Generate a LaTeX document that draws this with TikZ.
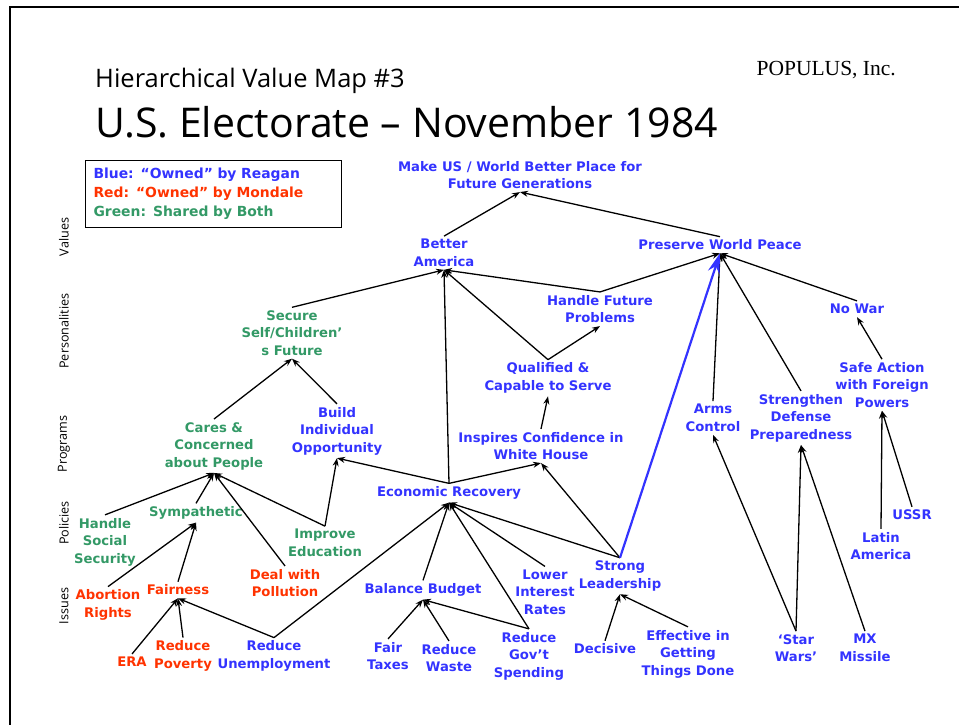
\documentclass[tikz,border=0pt]{standalone}
\usepackage{fontspec}
\setmainfont{DejaVu Sans}
\newfontfamily\titlefont{Open Sans}
\newfontfamily\firmfont{Liberation Serif}
\usetikzlibrary{arrows.meta}
\definecolor{reaganblue}{RGB}{51,51,255}
\definecolor{mondalered}{RGB}{255,51,0}
\definecolor{sharedgreen}{RGB}{51,153,102}
\tikzset{
	hvm/.style={align=center, font=\bfseries\fontsize{13.2}{17.5}\selectfont, inner sep=3pt},
	reagan/.style={hvm, text=reaganblue},
	mondale/.style={hvm, text=mondalered},
	shared/.style={hvm, text=sharedgreen},
	level/.style={rotate=90, inner sep=0pt, font=\titlefont\fontsize{12.6}{14}\selectfont},
	link/.style={-{Stealth[length=8pt,width=6pt]}, line width=1.3pt},
	biglink/.style={-{Stealth[length=20pt,width=12pt]}, line width=2.2pt, draw=reaganblue, fill=reaganblue}
}
\begin{document}
\begin{tikzpicture}[x=1pt, y=-1pt]
	\useasboundingbox (0,0) rectangle (959,725);
	\draw[line width=1.3pt] (959,7) -- (10,7) -- (10,725);

	\node[anchor=base west, inner sep=0pt, font=\titlefont\fontsize{25.5}{25.5}\selectfont] (subtitle) at (95,88) {Hierarchical Value Map \#3};
	\node[anchor=base west, inner sep=0pt, font=\titlefont\fontsize{41}{41}\selectfont] (title) at (95,137) {U.S. Electorate – November 1984};
	\node[anchor=base east, inner sep=0pt, font=\firmfont\fontsize{21.5}{21.5}\selectfont] (firm) at (896,76) {POPULUS, Inc.};

	\node[draw, line width=1pt, anchor=north west, minimum width=254, minimum height=67, text width=240, inner xsep=8pt, align=left, font=\bfseries\fontsize{13.9}{19}\selectfont] (legend) at (85,160)
		{\textcolor{reaganblue}{Blue: “Owned” by Reagan}\\\textcolor{mondalered}{Red: “Owned” by Mondale}\\\textcolor{sharedgreen}{Green: Shared by Both}};

	\node[level] (values) at (64,237) {Values};
	\node[level] (personalities) at (64,331) {Personalities};
	\node[level] (programs) at (64,444) {Programs};
	\node[level] (policies) at (64,523) {Policies};
	\node[level] (issues) at (64,606) {Issues};

	\node[reagan] (goal) at (520,175) {Make US / World Better Place for\\Future Generations};
	\node[reagan] (better) at (444,253) {Better\\America};
	\node[reagan] (peace) at (720,245) {Preserve World Peace};
	\node[shared] (secure) at (292,333) {Secure\\Self/Children’\\s Future};
	\node[reagan] (future) at (600,309) {Handle Future\\Problems};
	\node[reagan] (nowar) at (857,309) {No War};
	\node[reagan] (qualified) at (548,378) {Qualified \&\\Capable to Serve};
	\node[reagan] (safe) at (882,385) {Safe Action\\with Foreign\\Powers};
	\node[reagan] (arms) at (713,418) {Arms\\Control};
	\node[reagan] (defense) at (801,418) {Strengthen\\Defense\\Preparedness};
	\node[shared] (cares) at (214,446) {Cares \&\\Concerned\\about People};
	\node[reagan] (opportunity) at (337,431) {Build\\Individual\\Opportunity};
	\node[reagan] (confidence) at (541,446) {Inspires Confidence in\\White House};
	\node[reagan] (economy) at (449,493) {Economic Recovery};
	\node[shared] (social) at (105,542) {Handle\\Social\\Security};
	\node[shared] (sympathetic) at (196,513) {Sympathetic};
	\node[shared] (education) at (325,543) {Improve\\Education};
	\node[reagan] (latin) at (881,546) {Latin\\America};
	\node[reagan] (ussr) at (912,515) {USSR};
	\node[mondale] (pollution) at (285,583) {Deal with\\Pollution};
	\node[mondale] (abortion) at (108,605) {Abortion\\Rights};
	\node[mondale] (fairness) at (178,590) {Fairness};
	\node[reagan] (budget) at (423,590) {Balance Budget};
	\node[reagan] (interest) at (545,592) {Lower\\Interest\\Rates};
	\node[reagan] (leadership) at (620,576) {Strong\\Leadership};
	\node[mondale] (era) at (132,662) {ERA};
	\node[mondale] (poverty) at (183,656) {Reduce\\Poverty};
	\node[reagan] (jobs) at (274,656) {Reduce\\Unemployment};
	\node[reagan] (taxes) at (388,656) {Fair\\Taxes};
	\node[reagan] (waste) at (449,658) {Reduce\\Waste};
	\node[reagan] (spending) at (529,656) {Reduce\\Gov't\\Spending};
	\node[reagan] (decisive) at (605,649) {Decisive};
	\node[reagan] (effective) at (688,654) {Effective in\\Getting\\Things Done};
	\node[reagan] (starwars) at (796,648) {‘Star\\Wars’};
	\node[reagan] (mx) at (865,648) {MX\\Missile};

	\foreach \from/\to in {cares/secure, opportunity/secure, secure/better, better/goal, peace/goal,
		future/better, future/peace, qualified/better, qualified/future, confidence/qualified,
		economy/better, economy/opportunity, economy/confidence, arms/peace, defense/peace,
		nowar/peace, safe/nowar, social/cares, sympathetic/cares, pollution/cares,
		education/cares, education/opportunity, abortion/sympathetic, fairness/sympathetic,
		era/fairness, poverty/fairness, jobs/fairness, jobs/economy, budget/economy,
		spending/economy, interest/economy, leadership/economy, leadership/confidence,
		taxes/budget, waste/budget, spending/budget, decisive/leadership, effective/leadership,
		starwars/arms, starwars/defense, mx/defense, latin/safe, ussr/safe}
		\draw[link] (\from.north) -- (\to.south);
	\draw[biglink] (leadership.north) -- (peace.south);
\end{tikzpicture}
\end{document}
